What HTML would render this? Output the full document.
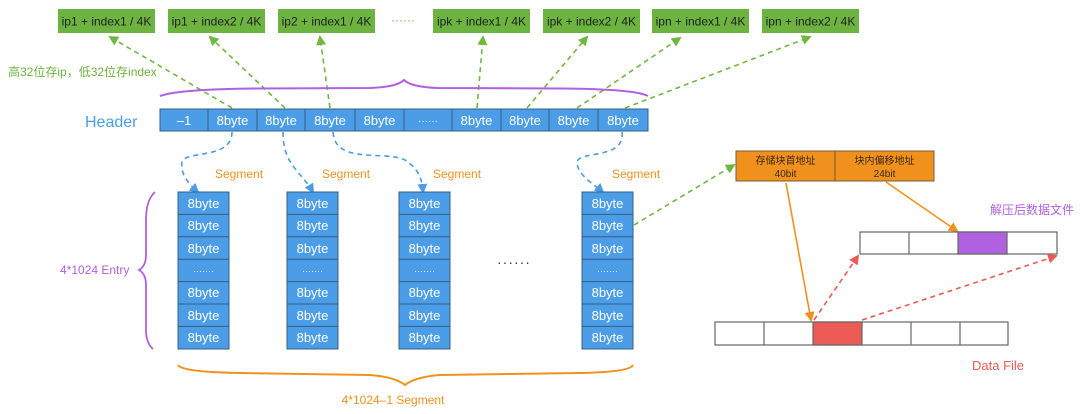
<!DOCTYPE html>
<html><head><meta charset="utf-8"><style>
html,body{margin:0;padding:0;background:#fff;}
svg{display:block;}
text{font-family:"Liberation Sans","Noto Sans CJK SC",sans-serif;}
</style></head><body>
<svg width="1080" height="414" viewBox="0 0 1080 414" xmlns="http://www.w3.org/2000/svg">
<defs>
<marker id="ag" markerWidth="10" markerHeight="10" refX="8" refY="5" orient="auto" markerUnits="userSpaceOnUse"><path d="M0,0 L10,5 L0,10 z" fill="#6fb840"/></marker>
<marker id="ab" markerWidth="10" markerHeight="10" refX="8" refY="5" orient="auto" markerUnits="userSpaceOnUse"><path d="M0,0 L10,5 L0,10 z" fill="#4a9de6"/></marker>
<marker id="ao" markerWidth="10" markerHeight="10" refX="8" refY="5" orient="auto" markerUnits="userSpaceOnUse"><path d="M0,0 L10,5 L0,10 z" fill="#f0911e"/></marker>
<marker id="ar" markerWidth="10" markerHeight="10" refX="8" refY="5" orient="auto" markerUnits="userSpaceOnUse"><path d="M0,0 L10,5 L0,10 z" fill="#eb5a55"/></marker>
</defs>

<g font-size="12" fill="#222" text-anchor="middle">
<rect x="58" y="9" width="97" height="24" fill="#6cb33f"/><text x="106.5" y="25.5">ip1 + index1 / 4K</text>
<rect x="168" y="9" width="97" height="24" fill="#6cb33f"/><text x="216.5" y="25.5">ip1 + index2 / 4K</text>
<rect x="278" y="9" width="97" height="24" fill="#6cb33f"/><text x="326.5" y="25.5">ip2 + index1 / 4K</text>
<text x="403" y="24" fill="#6cb33f" font-size="12">······</text>
<rect x="433" y="9" width="97" height="24" fill="#6cb33f"/><text x="481.5" y="25.5">ipk + index1 / 4K</text>
<rect x="543" y="9" width="97" height="24" fill="#6cb33f"/><text x="591.5" y="25.5">ipk + index2 / 4K</text>
<rect x="652" y="9" width="97" height="24" fill="#6cb33f"/><text x="700.5" y="25.5">ipn + index1 / 4K</text>
<rect x="762" y="9" width="97" height="24" fill="#6cb33f"/><text x="810.5" y="25.5">ipn + index2 / 4K</text>
</g>

<text x="8" y="76" font-size="12" fill="#6cb33f">高32位存ip，低32位存index</text>

<g stroke="#6fb840" stroke-width="1.6" stroke-dasharray="5,4" fill="none" marker-end="url(#ag)">
<line x1="232" y1="108" x2="110" y2="37"/>
<line x1="285" y1="108" x2="210" y2="37"/>
<line x1="330" y1="108" x2="320" y2="37"/>
<line x1="477" y1="108" x2="483" y2="37"/>
<line x1="527" y1="108" x2="587" y2="37"/>
<line x1="577" y1="108" x2="680" y2="38"/>
<line x1="625" y1="108" x2="810" y2="37"/>
<line x1="634" y1="225" x2="734" y2="165"/>
</g>

<path d="M160,96 Q180,89 260,88.5 L370,88 Q397,87 404,80 Q411,87 438,88 L560,88.5 Q635,89 648,96" stroke="#b061e0" stroke-width="2" fill="none"/>

<text x="85" y="127" font-size="16" fill="#4a9de6">Header</text>

<g font-size="13" fill="#fff" text-anchor="middle">
<rect x="160" y="109" width="488" height="22" fill="#4a9de6" stroke="#3a5d80" stroke-width="1"/>
<g stroke="#3a5d80" stroke-width="1">
<line x1="208" y1="109" x2="208" y2="131"/><line x1="257" y1="109" x2="257" y2="131"/><line x1="305" y1="109" x2="305" y2="131"/><line x1="355" y1="109" x2="355" y2="131"/><line x1="404" y1="109" x2="404" y2="131"/><line x1="452" y1="109" x2="452" y2="131"/><line x1="501" y1="109" x2="501" y2="131"/><line x1="549" y1="109" x2="549" y2="131"/><line x1="598" y1="109" x2="598" y2="131"/>
</g>
<text x="184" y="125">–1</text>
<text x="232.5" y="125">8byte</text>
<text x="281" y="125">8byte</text>
<text x="330" y="125">8byte</text>
<text x="379.5" y="125">8byte</text>
<text x="428" y="124" font-size="10">······</text>
<text x="476.5" y="125">8byte</text>
<text x="525" y="125">8byte</text>
<text x="573.5" y="125">8byte</text>
<text x="623" y="125">8byte</text>
</g>

<g stroke="#4a9de6" stroke-width="1.6" stroke-dasharray="5,4" fill="none" marker-end="url(#ab)">
<path d="M232,132 C232,160 185,150 182,162 C180,175 190,185 198,192"/>
<path d="M283,132 C283,165 300,170 313,192"/>
<path d="M333,132 C335,165 385,150 405,160 C420,170 422,180 423,192"/>
<path d="M622,132 C625,160 580,150 577,162 C577,175 595,185 603,192"/>
</g>

<g font-size="12" fill="#f0911e">
<text x="215" y="178">Segment</text>
<text x="322" y="178">Segment</text>
<text x="433" y="178">Segment</text>
<text x="612" y="178">Segment</text>
</g>

<g font-size="13" fill="#fff" text-anchor="middle">
<g transform="translate(178,192)">
<rect width="51" height="157" fill="#4a9de6" stroke="#3a5d80"/>
<g stroke="#3a5d80"><line x1="0" y1="22.4" x2="51" y2="22.4"/><line x1="0" y1="44.8" x2="51" y2="44.8"/><line x1="0" y1="67.2" x2="51" y2="67.2"/><line x1="0" y1="89.6" x2="51" y2="89.6"/><line x1="0" y1="112" x2="51" y2="112"/><line x1="0" y1="134.4" x2="51" y2="134.4"/></g>
<text x="25.5" y="16">8byte</text><text x="25.5" y="38">8byte</text><text x="25.5" y="61">8byte</text><text x="25.5" y="82" font-size="9">·······</text><text x="25.5" y="105">8byte</text><text x="25.5" y="128">8byte</text><text x="25.5" y="150">8byte</text>
</g>
<g transform="translate(287,192)">
<rect width="51" height="157" fill="#4a9de6" stroke="#3a5d80"/>
<g stroke="#3a5d80"><line x1="0" y1="22.4" x2="51" y2="22.4"/><line x1="0" y1="44.8" x2="51" y2="44.8"/><line x1="0" y1="67.2" x2="51" y2="67.2"/><line x1="0" y1="89.6" x2="51" y2="89.6"/><line x1="0" y1="112" x2="51" y2="112"/><line x1="0" y1="134.4" x2="51" y2="134.4"/></g>
<text x="25.5" y="16">8byte</text><text x="25.5" y="38">8byte</text><text x="25.5" y="61">8byte</text><text x="25.5" y="82" font-size="9">·······</text><text x="25.5" y="105">8byte</text><text x="25.5" y="128">8byte</text><text x="25.5" y="150">8byte</text>
</g>
<g transform="translate(399,192)">
<rect width="51" height="157" fill="#4a9de6" stroke="#3a5d80"/>
<g stroke="#3a5d80"><line x1="0" y1="22.4" x2="51" y2="22.4"/><line x1="0" y1="44.8" x2="51" y2="44.8"/><line x1="0" y1="67.2" x2="51" y2="67.2"/><line x1="0" y1="89.6" x2="51" y2="89.6"/><line x1="0" y1="112" x2="51" y2="112"/><line x1="0" y1="134.4" x2="51" y2="134.4"/></g>
<text x="25.5" y="16">8byte</text><text x="25.5" y="38">8byte</text><text x="25.5" y="61">8byte</text><text x="25.5" y="82" font-size="9">·······</text><text x="25.5" y="105">8byte</text><text x="25.5" y="128">8byte</text><text x="25.5" y="150">8byte</text>
</g>
<g transform="translate(582,192)">
<rect width="51" height="157" fill="#4a9de6" stroke="#3a5d80"/>
<g stroke="#3a5d80"><line x1="0" y1="22.4" x2="51" y2="22.4"/><line x1="0" y1="44.8" x2="51" y2="44.8"/><line x1="0" y1="67.2" x2="51" y2="67.2"/><line x1="0" y1="89.6" x2="51" y2="89.6"/><line x1="0" y1="112" x2="51" y2="112"/><line x1="0" y1="134.4" x2="51" y2="134.4"/></g>
<text x="25.5" y="16">8byte</text><text x="25.5" y="38">8byte</text><text x="25.5" y="61">8byte</text><text x="25.5" y="82" font-size="9">·······</text><text x="25.5" y="105">8byte</text><text x="25.5" y="128">8byte</text><text x="25.5" y="150">8byte</text>
</g>
</g>

<text x="497" y="267" font-size="14" fill="#333" letter-spacing="1">······</text>

<path d="M155,192 Q146,200 146,220 L146,255 Q146,266 139,270 Q146,274 146,285 L146,330 Q146,343 153,349" stroke="#b061e0" stroke-width="1.8" fill="none"/>
<text x="60" y="274" font-size="12" fill="#b061e0">4*1024 Entry</text>

<path d="M178,365 Q182,372 240,373 L370,375 Q395,377 405,385 Q415,377 440,375 L580,373 Q630,372 633,365" stroke="#f0911e" stroke-width="2" fill="none"/>
<text x="393" y="404" font-size="12" fill="#f0911e" text-anchor="middle">4*1024–1 Segment</text>

<rect x="736" y="151" width="198" height="30" fill="#f0911e" stroke="#7a5a30"/>
<line x1="835" y1="151" x2="835" y2="181" stroke="#7a5a30"/>
<g font-size="10" fill="#3a2a15" text-anchor="middle">
<text x="785.5" y="164">存储块首地址</text><text x="785.5" y="177">40bit</text>
<text x="884.5" y="164">块内偏移地址</text><text x="884.5" y="177">24bit</text>
</g>

<g stroke="#f0911e" stroke-width="1.6" fill="none" marker-end="url(#ao)">
<line x1="786" y1="183" x2="811" y2="320"/>
<line x1="886" y1="182" x2="957" y2="231"/>
</g>

<text x="990" y="214" font-size="12" fill="#b061e0">解压后数据文件</text>

<g stroke="#666" stroke-width="1.2">
<rect x="860" y="232" width="197" height="22" fill="#fff"/>
<rect x="958" y="232" width="49" height="22" fill="#b061e0"/>
<line x1="909" y1="232" x2="909" y2="254"/>
</g>
<g stroke="#666" stroke-width="1.2">
<rect x="715" y="322" width="293" height="23" fill="#fff"/>
<rect x="813" y="322" width="49" height="23" fill="#eb5a55"/>
<line x1="764" y1="322" x2="764" y2="345"/><line x1="911" y1="322" x2="911" y2="345"/><line x1="960" y1="322" x2="960" y2="345"/>
</g>

<g stroke="#eb5a55" stroke-width="1.6" stroke-dasharray="5,4" fill="none" marker-end="url(#ar)">
<line x1="814" y1="320" x2="858" y2="256"/>
<line x1="862" y1="320" x2="1056" y2="256"/>
</g>

<text x="972" y="370" font-size="13" fill="#eb5a55">Data File</text>
</svg>
</body></html>
